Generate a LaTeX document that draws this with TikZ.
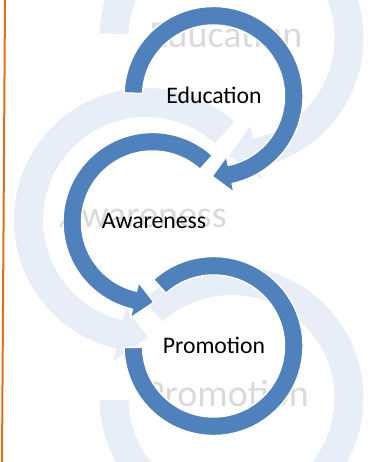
\documentclass[tikz,border=0pt]{standalone}
\usepackage{fontspec}
\setmainfont{Carlito}
\usetikzlibrary{calc}
\definecolor{arrowblue}{RGB}{79,129,189}
\definecolor{shadeblue}{RGB}{232,238,247}
\definecolor{shadetext}{RGB}{218,218,218}
\definecolor{edgeorange}{RGB}{228,110,20}
% band of a ring: style, centre, outer, inner, from, to
\newcommand{\ringband}[6]{%
  \path[#1] ($(#2)+(#5:#3)$) arc[start angle=#5, end angle=#6, radius=#3]
    -- ($(#2)+(#6:#4)$) arc[start angle=#6, end angle=#5, radius=#4] -- cycle;}
% same band ending in a head: ... , tip angle, barb
\newcommand{\ringarrow}[8]{%
  \path[#1] ($(#2)+(#5:#3)$) arc[start angle=#5, end angle=#6, radius=#3]
    -- ($(#2)+(#6:{#3+#8})$) -- ($(#2)+(#7:{(#3+#4)/2})$) -- ($(#2)+(#6:{#4-#8})$)
    -- ($(#2)+(#6:#4)$) arc[start angle=#6, end angle=#5, radius=#4] -- cycle;}

\begin{document}
\begin{tikzpicture}[x=1pt, y=1pt,
  ring/.style={fill=arrowblue, draw=white, line width=1.4pt, line join=round},
  ghost/.style={fill=shadeblue},
  ringtext/.style={font=\fontsize{23.7}{28}\selectfont, text=black, inner sep=0, anchor=base},
  ghosttext/.style={font=\fontsize{38}{44}\selectfont, text=shadetext, inner sep=0, anchor=base}]
\useasboundingbox (0,0) rectangle (371,462);
\clip (0,0) rectangle (371,462);
\coordinate (c1) at (213.5,366);
\coordinate (c2) at (152.5,240);
\coordinate (c3) at (213.5,116);
\coordinate (g1) at (231.5,424);
\coordinate (g2) at (146,242);
\coordinate (g3) at (231.5,64);
% Reflections:
\ringarrow{ghost}{g1}{132}{103}{178}{-78}{-91}{13}
\ringarrow{ghost}{g2}{132}{103}{48}{257}{271}{13}
\ringband{ghost}{g3}{132}{103}{132}{-179}
\node[ghosttext] (edushade) at (226,414) {Education};
\node[ghosttext] (awashade) at (143,234) {Awareness};
\node[ghosttext] (proshade) at (227,55) {Promotion};
% Arrows:
\ringarrow{ring}{c1}{89.5}{71}{178}{-78}{-91}{9}
\ringarrow{ring}{c2}{89.5}{71}{48}{257}{271}{9}
\ringband{ring}{c3}{89.5}{71}{132}{-179}
\node[ringtext] (edu) at (214,358) {Education};
\node[ringtext] (awa) at (154,233) {Awareness};
\node[ringtext] (pro) at (214,108) {Promotion};
\coordinate (edgetop) at (5,462);
\coordinate (edgebot) at (2,0);
\draw[edgeorange, line width=2pt] (edgetop) -- (edgebot);
\end{tikzpicture}
\end{document}
